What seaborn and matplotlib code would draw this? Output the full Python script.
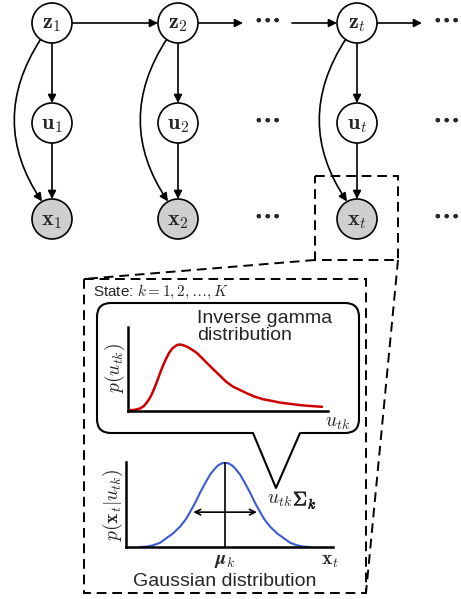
import numpy as np
import pandas as pd
import matplotlib
matplotlib.use('Agg')
import matplotlib.pyplot as plt
import matplotlib.patheffects as pe
import seaborn as sns
from matplotlib.patches import Circle, FancyArrowPatch, FancyBboxPatch, Rectangle

# données
time_steps = ['1', '2', 't']
node_vars = ['z', 'u', 'x']
observed = [False, False, True]

gamma_u = [0.0, 0.3, 0.6, 0.8, 1.0, 1.15, 1.3, 1.45, 1.6, 1.75, 1.9, 2.05, 2.2,
           2.35, 2.5, 2.65, 2.8, 3.0, 3.2, 3.45, 3.7, 3.95, 4.25, 4.6, 4.9,
           5.25, 5.6, 5.95, 6.35, 6.75, 7.2, 7.6, 8.1, 8.6, 9.1, 9.7]
gamma_p = [0.01, 0.012, 0.03, 0.06, 0.12, 0.18, 0.26, 0.35, 0.45, 0.54, 0.62,
           0.69, 0.74, 0.77, 0.79, 0.79, 0.78, 0.76, 0.73, 0.69, 0.63, 0.57,
           0.50, 0.42, 0.35, 0.29, 0.25, 0.21, 0.17, 0.14, 0.12, 0.10, 0.085,
           0.07, 0.06, 0.05]

gauss_x = [-3.27, -3.0, -2.77, -2.5, -2.23, -2.0, -1.73, -1.5, -1.35, -1.15,
           -0.96, -0.75, -0.58, -0.4, -0.27, -0.12, 0.0, 0.12, 0.27, 0.4, 0.58,
           0.75, 0.96, 1.15, 1.35, 1.5, 1.73, 2.0, 2.23, 2.5, 2.77, 3.0, 3.27]
gauss_p = [0.0, 0.005, 0.02, 0.05, 0.11, 0.16, 0.24, 0.33, 0.41, 0.52, 0.64,
           0.76, 0.85, 0.92, 0.96, 0.985, 0.99, 0.985, 0.96, 0.92, 0.85, 0.76,
           0.64, 0.52, 0.41, 0.33, 0.24, 0.16, 0.11, 0.05, 0.02, 0.005, 0.0]
mu_k = 0.0
width_level = 0.41
width_half = 1.33

sns.set_style('white')
plt.rcParams['font.family'] = ['Liberation Sans', 'DejaVu Sans']
plt.rcParams['mathtext.fontset'] = 'cm'

W, H = 461, 599
fig = plt.figure(figsize=(W / 100, H / 100), dpi=100)
ax = fig.add_axes([0, 0, 1, 1])
ax.set_xlim(0, W)
ax.set_ylim(H, 0)
ax.axis('off')

# mise en page du graphe
col_x = [52, 178, 357]
row_y = [23, 123, 219]
R = 20


def arrow(p1, p2, rad=0.0):
    a = FancyArrowPatch(p1, p2, arrowstyle='-|>', mutation_scale=12, lw=1.2,
                        color='black', shrinkA=0, shrinkB=0,
                        connectionstyle=f'arc3,rad={rad}', zorder=2)
    ax.add_patch(a)


for cx, sub in zip(col_x, time_steps):
    for ry, var, obs in zip(row_y, node_vars, observed):
        ax.add_patch(Circle((cx, ry), R, facecolor='#cfcfcf' if obs else 'white',
                            edgecolor='black', lw=1.2, zorder=3))
        ax.text(cx, ry + 1, rf'$\mathbf{{{var}}}_{{{sub}}}$', fontsize=16,
                ha='center', va='center', zorder=4)
    arrow((cx, row_y[0] + R), (cx, row_y[1] - R))
    arrow((cx, row_y[1] + R), (cx, row_y[2] - R))
    arrow((cx - 11.5, row_y[0] + 16.5), (cx - 10, row_y[2] - 17.5), rad=0.33)

# flèches horizontales
arrow((col_x[0] + R, row_y[0]), (col_x[1] - R, row_y[0]))
arrow((col_x[1] + R, row_y[0]), (243, row_y[0]))
arrow((292, row_y[0]), (col_x[2] - R, row_y[0]))
arrow((col_x[2] + R, row_y[0]), (422, row_y[0]))

for dx in [267, 446]:
    for ry in row_y:
        ax.text(dx, ry - 3, r'$\cdots$', fontsize=22, ha='center', va='center',
                path_effects=[pe.withStroke(linewidth=0.4, foreground='black')])

# cadres en pointillés
dash = (0, (5, 3))
ax.add_patch(Rectangle((315, 176), 83, 84, fill=False, edgecolor='black', lw=1.4, ls=dash))
ax.add_patch(Rectangle((84, 279), 282, 314, fill=False, edgecolor='black', lw=1.4, ls=dash))
ax.plot([315, 84], [260, 279], color='black', lw=1.4, ls=dash)
ax.plot([398, 366], [260, 593], color='black', lw=1.4, ls=dash)

ax.text(93, 292, r'State: $k=1,2,\ldots,K$', fontsize=11, ha='left', va='center')

# bulle
ax.add_patch(FancyBboxPatch((97, 303), 262, 130, boxstyle='round,pad=0,rounding_size=14',
                            facecolor='white', edgecolor='black', lw=1.5, zorder=1))
ax.plot([254.5, 298.5], [433, 433], color='white', lw=3, zorder=1.5)
ax.plot([253, 276, 300], [433, 488, 433], color='black', lw=1.5, zorder=1.6)

ax.text(197, 327, 'Inverse gamma\ndistribution', fontsize=14, ha='left', va='center',
        linespacing=1.0)
ax.text(115, 368, r'$p(u_{tk})$', fontsize=14, rotation=90, ha='center', va='center')
ax.text(337, 423, r'$u_{tk}$', fontsize=14, ha='center', va='center')

ax.text(113, 505, r'$p(\mathbf{x}_t|u_{tk})$', fontsize=14, rotation=90,
        ha='center', va='center')
ax.text(292, 500, r'$u_{tk}$', fontsize=14, ha='right', va='center')
ax.text(293, 500, r'$\Sigma_k$', fontsize=14, ha='left', va='center',
        path_effects=[pe.withStroke(linewidth=0.45, foreground='black')])
ax.text(225, 562, r'$\boldsymbol{\mu}_k$', fontsize=14, ha='center', va='center')
ax.text(330, 561, r'$\mathbf{x}_t$', fontsize=14, ha='center', va='center')
ax.text(225, 582, 'Gaussian distribution', fontsize=14, ha='center', va='center')

# courbe gamma inverse
df_g = pd.DataFrame({'u': gamma_u, 'p': gamma_p})
ax_g = fig.add_axes([128 / W, (H - 411) / H, 200 / W, 84 / H])
sns.lineplot(data=df_g, x='u', y='p', ax=ax_g, color='#cc0000', lw=1.8)
ax_g.set_xlim(0, 10)
ax_g.set_ylim(0, 1)

# courbe gaussienne
df_n = pd.DataFrame({'x': gauss_x, 'p': gauss_p})
ax_n = fig.add_axes([126 / W, (H - 547) / H, 207 / W, 85 / H])
sns.lineplot(data=df_n, x='x', y='p', ax=ax_n, color='#3c5ad2', lw=1.5)
ax_n.set_xlim(-3.81, 4.15)
ax_n.set_ylim(0, 1)
ax_n.plot([mu_k, mu_k], [0, 1], color='black', lw=1.2)
ax_n.annotate('', xy=(mu_k - width_half, width_level), xytext=(mu_k + width_half, width_level),
              arrowprops=dict(arrowstyle='<->', color='black', lw=1.2))

for a in [ax_g, ax_n]:
    sns.despine(ax=a)
    a.patch.set_visible(False)
    a.set_xticks([])
    a.set_yticks([])
    a.set_xlabel('')
    a.set_ylabel('')
    for s in ['left', 'bottom']:
        a.spines[s].set_linewidth(1.8)
        a.spines[s].set_color('black')

fig.savefig('out.png', dpi=100)
